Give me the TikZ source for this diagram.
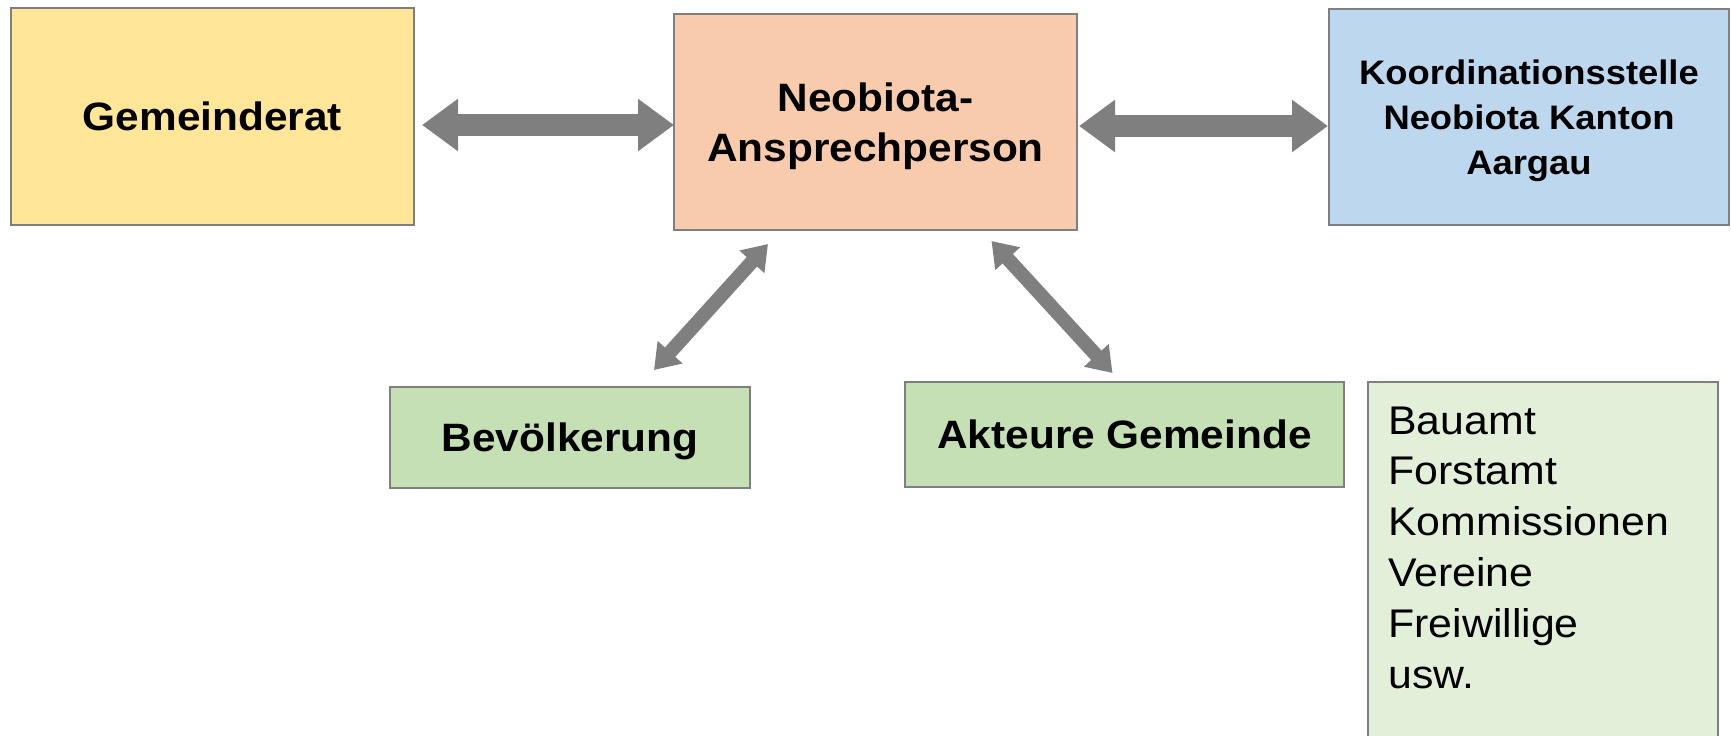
\documentclass[tikz,border=0pt]{standalone}
\usepackage{fontspec}
\setmainfont{Liberation Sans}[FakeStretch=1.07]
\usepackage{tikz}
\usetikzlibrary{arrows.meta}
\definecolor{gemfill}{HTML}{FFE699}
\definecolor{neofill}{HTML}{F8CBAD}
\definecolor{kantfill}{HTML}{BDD7EE}
\definecolor{grpfill}{HTML}{C5E0B4}
\definecolor{lstfill}{HTML}{E2F0D9}
\definecolor{framegray}{HTML}{7F7F7F}
\definecolor{arrowgray}{HTML}{7F7F7F}

\begin{document}
\begin{tikzpicture}[x=0.5pt,y=-0.5pt,
  box/.style={draw=framegray,line width=1pt,inner sep=0pt,text depth=0pt,align=center,font=\fontsize{19.8}{25}\selectfont\bfseries},
  bigarrow/.style={draw=arrowgray,fill=arrowgray,line width=11pt,{Triangle[length=18pt,width=25pt]}-{Triangle[length=18pt,width=25pt]}},
  smallarrow/.style={draw=arrowgray,fill=arrowgray,line width=7pt,{Triangle[length=12pt,width=16pt]}-{Triangle[length=12pt,width=16pt]}}]
\useasboundingbox (0,0) rectangle (1731,735);
\node[box,fill=gemfill,minimum width=201.5pt,minimum height=108.5pt] (gem) at (212.5,116.5) {Gemeinderat};
\node[box,fill=neofill,minimum width=201.5pt,minimum height=108pt] (neo) at (875.5,122) {Neobiota-\\Ansprechperson};
\node[box,fill=kantfill,minimum width=200pt,minimum height=108pt,font=\fontsize{17}{22.5}\selectfont\bfseries] (kant) at (1529,117) {Koordinationsstelle\\Neobiota Kanton\\Aargau};
\node[box,fill=grpfill,minimum width=180pt,minimum height=50.5pt] (bev) at (570,437.5) {Bevölkerung};
\node[box,fill=grpfill,minimum width=219.5pt,minimum height=52.5pt] (akt) at (1124.5,434.5) {Akteure Gemeinde};
% Liste laeuft unten aus dem Bild
\node[draw=framegray,line width=1pt,fill=lstfill,minimum width=175pt,minimum height=189pt] (lst) at (1543,571) {};
\node[anchor=base west,inner sep=0pt,align=left,font=\fontsize{20}{25.4}\selectfont] (lsttext) at (1388,688) {Bauamt\\Forstamt\\Kommissionen\\Vereine\\Freiwillige\\usw.};

\draw[bigarrow] ([shift={(7,8.5)}]gem.east) -- ([shift={(1,3)}]neo.west);
\draw[bigarrow] ([shift={(1,4)}]neo.east) -- ([shift={(0,9)}]kant.west);
\draw[smallarrow] ([shift={(84,-16)}]bev.north) -- ([shift={(-107.5,13)}]neo.south);
\draw[smallarrow] ([shift={(116,10)}]neo.south) -- ([shift={(-12,-8)}]akt.north);
\end{tikzpicture}
\end{document}
